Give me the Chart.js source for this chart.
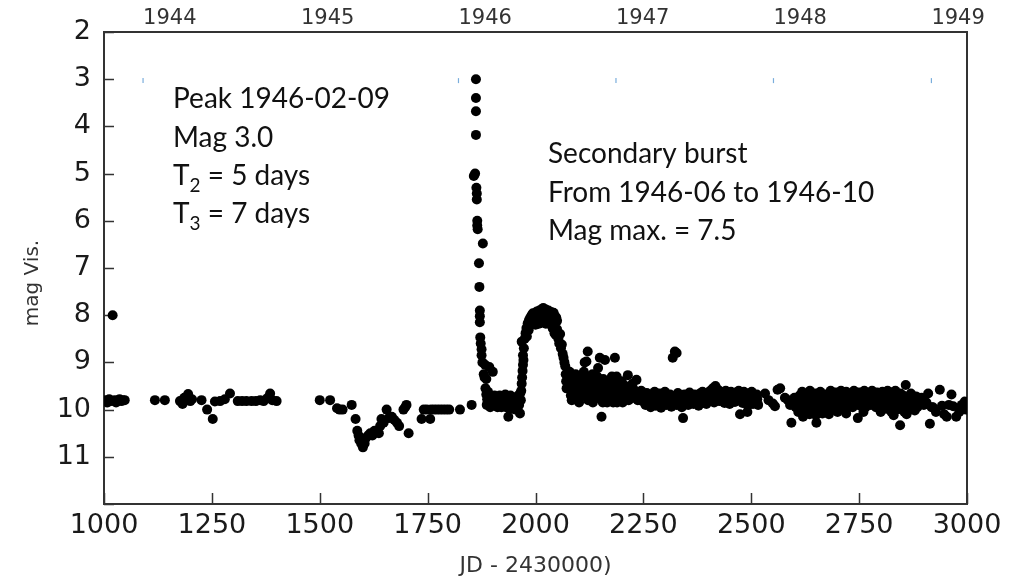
<!DOCTYPE html>
<html>
<head>
<meta charset="utf-8">
<title>T CrB 1944-1949</title>
<script src="https://cdn.jsdelivr.net/npm/chart.js@4.4.1/dist/chart.umd.min.js"></script>
<style>
  html, body { margin: 0; padding: 0; background: #fff; }
  #lightCurve { display: block; }
</style>
</head>
<body>
<canvas id="lightCurve" width="1014" height="583"></canvas>
<script>
// Visual magnitude estimates, [JD - 2430000, mag]
var quiescence = [
    [1004, 9.8], [1008, 9.85], [1012, 9.78], [1016, 9.82], [1020, 8.0], [1024, 9.8],
    [1028, 9.85], [1032, 9.8], [1036, 9.78], [1040, 9.82], [1044, 9.8], [1048, 9.8],
    [1118, 9.8], [1141, 9.8],
    [1176, 9.82], [1182, 9.88], [1186, 9.75], [1190, 9.8], [1195, 9.67], [1200, 9.82], [1204, 9.78],
    [1226, 9.8], [1239, 10.0], [1252, 10.2], [1257, 9.83], [1269, 9.82], [1280, 9.78], [1292, 9.66],
    [1310, 9.82], [1320, 9.82], [1330, 9.82], [1342, 9.82], [1352, 9.82], [1362, 9.8],
    [1370, 9.82], [1378, 9.76], [1385, 9.66], [1390, 9.8], [1400, 9.82]
];

var preEruptionDip = [
    [1500, 9.8], [1524, 9.8], [1540, 9.97], [1546, 10.0], [1553, 10.0], [1574, 9.9], [1583, 10.2],
    [1587, 10.45], [1590, 10.55], [1592, 10.65], [1596, 10.72], [1600, 10.8], [1604, 10.72],
    [1607, 10.6], [1612, 10.55], [1617, 10.5], [1622, 10.55], [1627, 10.45], [1632, 10.48],
    [1637, 10.5], [1640, 10.35], [1643, 10.2], [1648, 10.28], [1655, 10.0], [1660, 10.18],
    [1667, 10.15], [1673, 10.22], [1679, 10.28], [1684, 10.35], [1694, 10.0], [1698, 9.95],
    [1701, 9.9], [1706, 10.5],
    [1736, 10.2], [1741, 10.0], [1748, 10.0], [1756, 10.2], [1758, 10.0], [1765, 10.0],
    [1772, 10.0], [1779, 10.0], [1786, 10.0], [1793, 10.0], [1800, 10.0], [1825, 10.0], [1852, 9.9]
];

var eruption = [
    [1857, 5.05], [1860, 5.0], [1862, 3.0], [1862, 3.4], [1862, 3.68], [1862, 4.18],
    [1863, 5.3], [1864, 5.42], [1864, 5.55], [1865, 6.0], [1865, 6.1], [1866, 6.18],
    [1869, 6.9], [1878, 6.48], [1870, 7.4], [1871, 7.9], [1871, 8.02], [1871, 8.15],
    [1872, 8.47], [1873, 8.6], [1875, 8.72], [1875, 8.85], [1877, 9.0], [1883, 9.05],
    [1893, 9.1], [1880, 9.25], [1882, 9.32], [1886, 9.35], [1901, 9.2]
];

var postEruption = [
    [1884, 9.55], [1886, 9.68], [1888, 9.78], [1890, 9.62], [1893, 9.85], [1896, 9.72],
    [1899, 9.8], [1902, 9.9], [1905, 9.7], [1908, 9.82], [1911, 9.75], [1914, 9.92],
    [1917, 9.7], [1920, 9.8], [1923, 9.88], [1926, 9.72], [1929, 9.82], [1932, 9.95],
    [1935, 9.78], [1937, 10.15], [1939, 9.85], [1942, 9.7], [1945, 9.9], [1948, 9.8],
    [1951, 9.75], [1954, 10.0], [1957, 9.82], [1960, 9.7], [1962, 9.9], [1964, 10.08], [1966, 9.8],
    [1887, 9.9], [1895, 9.95], [1903, 9.72], [1912, 9.95], [1921, 9.95], [1930, 9.68],
    [1940, 9.98], [1949, 9.95], [1958, 9.98], [1965, 9.65]
];

var secondaryBurst = [
    [1967, 9.6], [1968, 9.45], [1969, 9.32], [1970, 9.18], [1971, 9.05], [1972, 8.95],
    [1971, 8.85], [1968, 8.56], [1973, 8.7], [1975, 8.5], [1977, 8.38], [1979, 8.27],
    [1982, 8.17], [1985, 8.1], [1988, 8.05], [1991, 8.0], [1994, 7.96], [1997, 8.02],
    [2000, 7.95], [2003, 7.92], [2006, 7.98], [2009, 7.9], [2012, 7.95], [2015, 7.87],
    [2018, 7.85], [2021, 7.92], [2024, 7.88], [2027, 7.95], [2030, 7.9], [2033, 7.98],
    [2036, 7.93], [2039, 8.0], [2042, 7.95], [2045, 8.02], [2048, 8.05], [2050, 8.12],
    [1980, 8.45], [1984, 8.32], [1988, 8.22], [1992, 8.18], [1996, 8.15], [2000, 8.2],
    [2004, 8.12], [2008, 8.18], [2012, 8.1], [2016, 8.15], [2020, 8.12], [2024, 8.18],
    [2028, 8.1], [2032, 8.16], [2036, 8.2], [2040, 8.28], [2044, 8.38], [2047, 8.42],
    [2050, 8.3], [2053, 8.5], [2055, 8.6], [2057, 8.4], [2059, 8.7], [2061, 8.62],
    [2063, 8.82], [2065, 8.9], [2067, 9.0], [2069, 9.08], [2070, 9.25], [2071, 9.4], [2072, 9.55]
];

var decline = [
    [2075, 9.3], [2078, 9.55], [2080, 9.4], [2082, 9.7], [2084, 9.8], [2086, 9.35], [2088, 9.6],
    [2090, 9.45], [2093, 9.25], [2095, 9.65], [2097, 9.5], [2100, 9.35], [2102, 9.7], [2104, 9.55],
    [2106, 9.3], [2108, 9.6], [2110, 9.45], [2112, 9.2], [2114, 9.0], [2116, 9.65], [2118, 8.98],
    [2120, 9.4], [2121, 8.77], [2123, 9.55], [2125, 9.3], [2127, 9.7], [2130, 9.5], [2132, 9.25],
    [2134, 9.6], [2136, 9.4], [2138, 9.75], [2140, 9.55], [2143, 9.3], [2145, 9.12], [2147, 9.65],
    [2149, 8.9], [2150, 9.45], [2153, 10.15], [2155, 9.6], [2157, 9.35], [2159, 9.75], [2161, 8.95],
    [2163, 9.5], [2165, 9.65], [2168, 9.4], [2170, 9.8], [2172, 9.55], [2175, 9.7], [2178, 9.45],
    [2180, 9.85], [2182, 9.6], [2184, 8.9], [2186, 9.5], [2188, 9.3], [2190, 9.7], [2193, 9.55],
    [2196, 9.75], [2199, 9.6], [2202, 9.85], [2205, 9.7], [2208, 9.5], [2211, 9.65], [2214, 9.27],
    [2216, 9.8], [2219, 9.55], [2222, 9.7], [2225, 9.45], [2228, 9.75], [2231, 9.6], [2234, 9.37],
    [2237, 9.8], [2240, 9.65],
    [2079, 9.2], [2091, 9.75], [2101, 9.85], [2111, 9.7], [2122, 9.8], [2133, 9.85],
    [2144, 9.75], [2156, 9.85], [2166, 9.85], [2177, 9.3], [2189, 9.85], [2200, 9.4]
];

var plateau1947 = [
    [2245, 9.6], [2252, 9.7], [2258, 9.65], [2264, 9.72], [2270, 9.68], [2276, 9.62], [2282, 9.7],
    [2288, 9.66], [2294, 9.72], [2300, 9.62], [2306, 9.7], [2312, 9.68], [2318, 8.9], [2323, 8.77],
    [2327, 8.8], [2330, 9.65], [2336, 9.72], [2342, 10.18], [2345, 9.68], [2351, 9.7], [2357, 9.64],
    [2363, 9.72], [2369, 9.68], [2375, 9.7], [2381, 9.66], [2387, 9.62], [2393, 9.7], [2399, 9.65],
    [2405, 9.6], [2411, 9.55], [2417, 9.5], [2423, 9.58], [2429, 9.62], [2435, 9.68], [2441, 9.6],
    [2447, 9.66], [2453, 9.62], [2459, 9.7], [2465, 9.64], [2471, 9.6], [2477, 9.68], [2483, 9.62],
    [2489, 9.7], [2495, 9.66], [2501, 9.62], [2507, 9.7], [2513, 9.68],
    [2248, 9.82], [2255, 9.9], [2261, 9.85], [2267, 9.95], [2273, 9.88], [2279, 9.92], [2285, 9.84],
    [2291, 9.96], [2297, 9.86], [2303, 9.9], [2309, 9.82], [2315, 9.94], [2321, 9.86], [2327, 9.9],
    [2333, 9.84], [2339, 9.95], [2348, 9.86], [2354, 9.9], [2360, 9.82], [2366, 9.88], [2372, 9.84],
    [2378, 9.92], [2384, 9.86], [2390, 9.8], [2396, 9.88], [2402, 9.82], [2408, 9.78], [2414, 9.85],
    [2420, 9.75], [2426, 9.82], [2432, 9.78], [2438, 9.86], [2444, 9.8], [2450, 9.88], [2456, 9.78],
    [2462, 9.84], [2468, 9.8], [2474, 10.1], [2480, 9.86], [2486, 9.78], [2491, 10.05], [2492, 9.92],
    [2498, 9.82], [2504, 9.88], [2510, 9.8], [2516, 9.9],
    [2250, 9.76], [2262, 9.8], [2274, 9.78], [2286, 9.76], [2298, 9.8], [2310, 9.77], [2322, 9.79],
    [2334, 9.76], [2346, 9.8], [2358, 9.77], [2370, 9.78], [2382, 9.76], [2394, 9.79], [2406, 9.72],
    [2418, 9.7], [2430, 9.72], [2442, 9.74], [2454, 9.7], [2466, 9.73], [2478, 9.75], [2490, 9.72],
    [2502, 9.75], [2514, 9.78],
    [2532, 9.66], [2540, 9.8], [2550, 9.87], [2555, 9.93], [2561, 9.58], [2567, 9.55],
    [2578, 9.75], [2585, 9.8], [2590, 9.9], [2593, 10.28]
];

var plateau1948 = [
    [2600, 9.75], [2606, 9.85], [2612, 9.7], [2618, 9.62], [2624, 9.75], [2630, 9.68], [2636, 9.6],
    [2642, 9.72], [2648, 9.66], [2654, 9.75], [2660, 9.62], [2666, 9.7], [2672, 9.68], [2678, 9.75],
    [2684, 9.6], [2690, 9.7], [2696, 9.64], [2702, 9.72], [2708, 9.6], [2714, 9.68], [2720, 9.62],
    [2726, 9.75], [2732, 9.66], [2738, 9.6], [2744, 9.7], [2750, 9.64], [2756, 9.72], [2762, 9.6],
    [2768, 9.68], [2774, 9.66], [2780, 9.6], [2786, 9.7], [2792, 9.64], [2798, 9.72], [2804, 9.62],
    [2810, 9.68], [2816, 9.6], [2822, 9.7], [2828, 9.64], [2834, 9.6], [2840, 9.72], [2846, 9.66],
    [2852, 9.7], [2858, 9.48], [2864, 9.75], [2870, 9.66], [2876, 9.8], [2882, 9.72],
    [2603, 9.95], [2609, 10.05], [2615, 9.9], [2621, 10.0], [2627, 9.88], [2633, 9.95], [2639, 10.05],
    [2645, 9.9], [2651, 10.28], [2657, 9.95], [2663, 9.88], [2669, 10.0], [2675, 9.92], [2681, 9.85],
    [2687, 9.98], [2693, 9.9], [2699, 9.85], [2705, 9.95], [2711, 9.88], [2717, 10.0], [2723, 9.9],
    [2729, 9.85], [2735, 9.95], [2741, 9.88], [2747, 10.18], [2753, 9.92], [2759, 9.85], [2765, 9.95],
    [2771, 9.88], [2777, 9.9], [2783, 9.84], [2789, 9.95], [2795, 9.88], [2801, 9.92], [2807, 9.85],
    [2813, 9.98], [2819, 9.9], [2825, 10.05], [2831, 9.92], [2837, 10.0], [2843, 9.88], [2845, 10.33],
    [2849, 9.95], [2855, 10.05], [2861, 9.9], [2867, 10.0], [2873, 9.92], [2879, 10.02], [2885, 9.95],
    [2890, 9.88],
    [2604, 9.82], [2616, 9.8], [2628, 9.83], [2640, 9.78], [2652, 9.82], [2664, 9.8], [2676, 9.83],
    [2688, 9.8], [2700, 9.78], [2712, 9.82], [2724, 9.8], [2736, 9.83], [2748, 9.78], [2760, 9.82],
    [2772, 9.8], [2784, 9.78], [2796, 9.82], [2808, 9.8], [2820, 9.83], [2832, 9.78], [2844, 9.82],
    [2856, 9.8], [2868, 9.84], [2880, 9.8],
    [2620, 10.15], [2635, 10.1], [2650, 10.12], [2665, 10.08], [2680, 10.1], [2700, 10.05],
    [2720, 10.08], [2760, 10.05], [2800, 10.05], [2830, 10.12], [2860, 10.1]
];

var tail1949 = [
    [2895, 9.75], [2900, 9.9], [2906, 9.85], [2910, 9.66], [2914, 10.3], [2918, 9.95], [2921, 9.95],
    [2928, 10.05], [2937, 9.58], [2942, 9.92], [2947, 10.1], [2953, 10.15], [2958, 9.9], [2964, 9.68],
    [2968, 9.93], [2975, 10.15], [2982, 10.05], [2988, 9.9], [2995, 9.83], [2998, 10.0]
];

// Calendar years on the top axis (JD - 2430000 of 1 January)
var yearLabels = ['1944', '1945', '1946', '1947', '1948', '1949'];
var yearStartJD = [1090.5, 1456.5, 1821.5, 2186.5, 2551.5, 2917.5];
var yearMarkJD = [1090.5, 1821.5, 2186.5, 2551.5, 2917.5];
var yearMarkMag = 3.03;

var jdTicks = [1000, 1250, 1500, 1750, 2000, 2250, 2500, 2750, 3000];
var magTicks = [2, 3, 4, 5, 6, 7, 8, 9, 10, 11, 12];

var peakNote = ['Peak 1946-02-09', 'Mag 3.0', ['T', '2', ' = 5 days'], ['T', '3', ' = 7 days']];
var burstNote = ['Secondary burst', 'From 1946-06 to 1946-10', 'Mag max. = 7.5'];

function toXY(list) {
    return list.map(function(p) { return {x: p[0], y: p[1]}; });
}

var observations = [].concat(quiescence, preEruptionDip, eruption, postEruption,
    secondaryBurst, decline, plateau1947, plateau1948, tail1949);

/**
 * Box around the plot, inward tick marks, axis titles and the two notes.
 */
var framePlugin = {
    id: 'frame',
    beforeDraw: function(chart) {
        var c = chart.ctx;
        c.save();
        c.fillStyle = '#fff';
        c.fillRect(0, 0, chart.width, chart.height);
        c.restore();
    },
    beforeDatasetsDraw: function(chart) {
        var c = chart.ctx, a = chart.chartArea;
        var xs = chart.scales.x, ys = chart.scales.y;
        c.save();
        c.strokeStyle = '#333';
        c.lineWidth = 2;
        c.strokeRect(a.left, a.top, a.right - a.left, a.bottom - a.top);
        c.lineWidth = 1.5;
        c.beginPath();
        jdTicks.forEach(function(v) {
            var px = Math.round(xs.getPixelForValue(v)) + 0.5;
            c.moveTo(px, a.bottom);
            c.lineTo(px, a.bottom - 11);
        });
        magTicks.forEach(function(v) {
            var py = Math.round(ys.getPixelForValue(v)) + 0.5;
            c.moveTo(a.left, py);
            c.lineTo(a.left + 10, py);
        });
        c.stroke();
        c.restore();
    },
    afterDraw: function(chart) {
        var c = chart.ctx, a = chart.chartArea;
        var xs = chart.scales.x, ys = chart.scales.y;
        c.save();

        // axis titles
        c.fillStyle = '#333';
        c.font = '20px "DejaVu Sans"';
        c.textAlign = 'center';
        c.textBaseline = 'middle';
        c.save();
        c.translate(33, 283);
        c.rotate(-Math.PI / 2);
        c.fillText('mag Vis.', 0, 0);
        c.restore();
        c.font = '22px "DejaVu Sans"';
        c.fillText('JD - 2430000)', (a.left + a.right) / 2, 566);

        // notes
        c.fillStyle = '#111';
        c.textAlign = 'left';
        c.textBaseline = 'alphabetic';
        var lineGap = 38.3;
        var x0 = xs.getPixelForValue(1160), y0 = ys.getPixelForValue(3.62);
        peakNote.forEach(function(line, i) {
            var y = y0 + i * lineGap;
            c.font = '28px Lato';
            if (typeof line === 'string') {
                c.fillText(line, x0, y);
            } else {
                c.fillText(line[0], x0, y);
                var w = c.measureText(line[0]).width;
                c.font = '19px Lato';
                c.fillText(line[1], x0 + w, y + 7);
                var w2 = c.measureText(line[1]).width;
                c.font = '28px Lato';
                c.fillText(line[2], x0 + w + w2, y);
            }
        });
        var x1 = xs.getPixelForValue(2029), y1 = ys.getPixelForValue(4.78);
        c.font = '28px Lato';
        burstNote.forEach(function(line, i) {
            c.fillText(line, x1, y1 + i * lineGap);
        });
        c.restore();
    }
};

function initChart() {
    var ctx = document.getElementById('lightCurve').getContext('2d');
    return new Chart(ctx, {
        type: 'scatter',
        data: {
            datasets: [
                {
                    label: 'mag Vis.',
                    data: toXY(observations),
                    pointRadius: 5,
                    pointHoverRadius: 5,
                    backgroundColor: '#000',
                    borderWidth: 0
                },
                {
                    label: 'years',
                    data: yearMarkJD.map(function(v) { return {x: v, y: yearMarkMag}; }),
                    pointStyle: 'line',
                    rotation: 90,
                    pointRadius: 2.5,
                    borderColor: '#7aaedc',
                    borderWidth: 1.2
                }
            ]
        },
        options: {
            responsive: false,
            animation: false,
            layout: {
                padding: {left: 0, right: 47, top: 0, bottom: 0}
            },
            plugins: {
                legend: {display: false},
                tooltip: {enabled: false}
            },
            scales: {
                x: {
                    type: 'linear',
                    position: 'bottom',
                    min: 1000,
                    max: 3000,
                    afterBuildTicks: function(scale) {
                        scale.ticks = jdTicks.map(function(v) { return {value: v}; });
                    },
                    afterFit: function(scale) { scale.height = 79; },
                    grid: {display: false, drawTicks: false},
                    border: {display: false},
                    ticks: {
                        autoSkip: false,
                        maxRotation: 0,
                        padding: 6,
                        color: '#1a1a1a',
                        font: {family: 'DejaVu Sans', size: 27},
                        callback: function(value) { return String(value); }
                    }
                },
                x2: {
                    type: 'linear',
                    position: 'top',
                    min: 1000,
                    max: 3000,
                    afterBuildTicks: function(scale) {
                        scale.ticks = yearStartJD.map(function(v) { return {value: v}; });
                    },
                    afterFit: function(scale) { scale.height = 32; },
                    grid: {display: false, drawTicks: false},
                    border: {display: false},
                    ticks: {
                        autoSkip: false,
                        maxRotation: 0,
                        align: 'start',
                        padding: 1,
                        color: '#333',
                        font: {family: 'DejaVu Sans', size: 21},
                        callback: function(value, index) { return yearLabels[index]; }
                    }
                },
                y: {
                    min: 2,
                    max: 12,
                    reverse: true,
                    afterBuildTicks: function(scale) {
                        scale.ticks = magTicks.map(function(v) { return {value: v}; });
                    },
                    afterFit: function(scale) { scale.width = 104; },
                    grid: {display: false, drawTicks: false},
                    border: {display: false},
                    ticks: {
                        autoSkip: false,
                        padding: 13,
                        color: '#1a1a1a',
                        font: {family: 'DejaVu Sans', size: 27},
                        callback: function(value) { return value < 12 ? String(value) : ''; }
                    }
                }
            }
        },
        plugins: [framePlugin]
    });
}

initChart();
</script>
</body>
</html>
